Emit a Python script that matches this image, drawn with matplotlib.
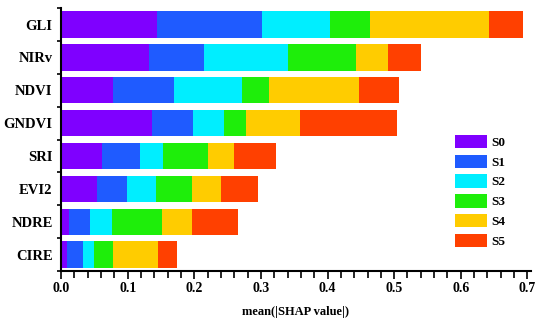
import numpy as np
import matplotlib
matplotlib.use('Agg')
import matplotlib.pyplot as plt
from matplotlib.ticker import MultipleLocator, FixedLocator

# feature names, top to bottom
features = ['GLI', 'NIRv', 'NDVI', 'GNDVI', 'SRI', 'EVI2', 'NDRE', 'CIRE']
stages = ['S0', 'S1', 'S2', 'S3', 'S4', 'S5']

# mean |SHAP| per stage, one list per feature
gli   = [0.144, 0.157, 0.102, 0.060, 0.179, 0.052]
nirv  = [0.132, 0.082, 0.126, 0.102, 0.048, 0.050]
ndvi  = [0.078, 0.092, 0.101, 0.041, 0.135, 0.060]
gndvi = [0.137, 0.061, 0.047, 0.032, 0.081, 0.146]
sri   = [0.061, 0.058, 0.034, 0.068, 0.039, 0.063]
evi2  = [0.054, 0.045, 0.043, 0.054, 0.044, 0.056]
ndre  = [0.012, 0.031, 0.033, 0.075, 0.045, 0.070]
cire  = [0.009, 0.024, 0.017, 0.028, 0.067, 0.029]

colors = ['#7F00FF', '#1F5BFF', '#00EEFF', '#1EEE0A', '#FFCC00', '#FF4000']

plt.rcParams['font.family'] = 'Liberation Serif'
plt.rcParams['font.weight'] = 'bold'

vals = np.array([gli, nirv, ndvi, gndvi, sri, evi2, ndre, cire])
ypos = np.arange(len(features))[::-1]

fig = plt.figure(figsize=(5.5, 3.25), dpi=100)
ax = fig.add_axes([0.111, 0.166, 0.854, 0.809])

left = np.zeros(len(features))
for j, st in enumerate(stages):
    ax.barh(ypos, vals[:, j], left=left, height=0.8, color=colors[j], label=st)
    left += vals[:, j]

ax.set_xlim(0, 0.705)
ax.set_ylim(-0.5, len(features) - 0.5)
ax.set_yticks(ypos)
ax.set_yticklabels(features, fontsize=10.5, fontweight='bold')
ax.tick_params(axis='y', which='major', length=0, pad=6)
ax.yaxis.set_minor_locator(FixedLocator(np.arange(-0.5, len(features), 1.0)))
ax.tick_params(axis='y', which='minor', length=3, width=1.2)

ax.xaxis.set_major_locator(MultipleLocator(0.1))
ax.xaxis.set_minor_locator(MultipleLocator(0.02))
ax.tick_params(axis='x', which='major', length=6, width=1.2, labelsize=10, pad=2)
ax.tick_params(axis='x', which='minor', length=5, width=1.2)
for lab in ax.get_xticklabels():
    lab.set_fontweight('bold')
ax.set_xlabel('mean(|SHAP value|)', fontsize=9, fontweight='bold', labelpad=8)

ax.spines['top'].set_visible(False)
ax.spines['right'].set_visible(False)
ax.spines['left'].set_linewidth(1.5)
ax.spines['bottom'].set_linewidth(1.5)

ax.legend(loc='upper left', bbox_to_anchor=(0.827, 0.586), bbox_transform=fig.transFigure,
          frameon=False, borderpad=0, borderaxespad=0, handlelength=2.45, handleheight=1.15,
          labelspacing=0.45, handletextpad=0.33, prop={'size': 9.5, 'weight': 'bold'})

plt.savefig('out.png', dpi=100)
